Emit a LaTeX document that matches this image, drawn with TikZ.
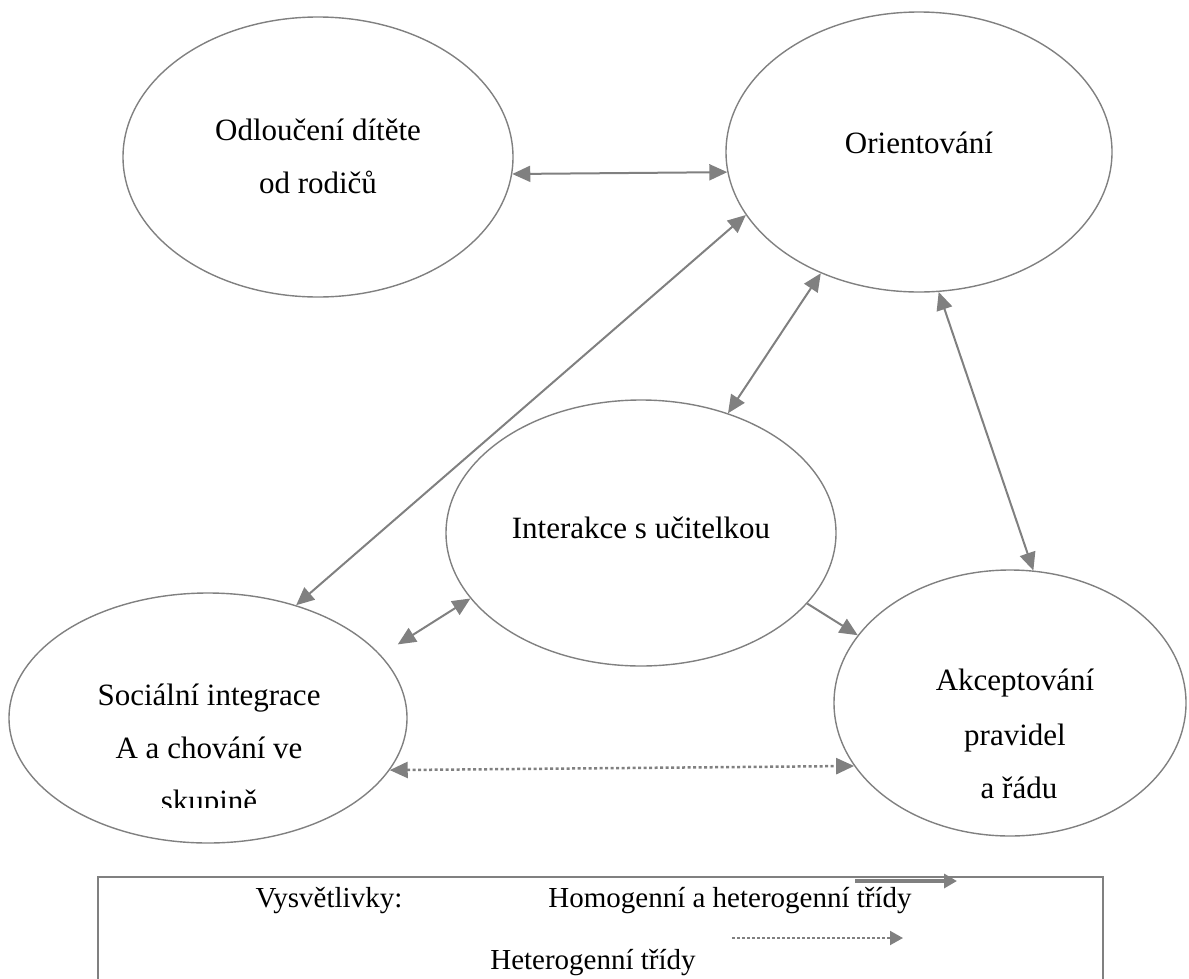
\documentclass[tikz,border=0pt]{standalone}
\usepackage{fontspec}
\setmainfont{Liberation Serif}
\usetikzlibrary{shapes.geometric,arrows.meta}
\definecolor{linegray}{RGB}{128,128,128}

\begin{document}
\begin{tikzpicture}[
    x=1pt, y=-1pt,
    every node/.style={inner sep=0pt, font=\fontsize{31}{37}\selectfont},
    bubble/.style={ellipse, draw=linegray, line width=1.4pt},
    lbl/.style={anchor=base},
    keytxt/.style={anchor=base, font=\fontsize{29}{35}\selectfont},
    link/.style={draw=linegray, line width=2pt, {Triangle[length=18pt,width=16pt]}-{Triangle[length=18pt,width=16pt]}},
    oneway/.style={draw=linegray, line width=2pt, -{Triangle[length=18pt,width=16pt]}},
    hetlink/.style={link, line width=2.5pt, dash pattern=on 3pt off 2.5pt},
]
\useasboundingbox (0,0) rectangle (1189,978);

% the five phases
\node[bubble, minimum width=390pt, minimum height=280pt] (odl) at (318,157) {};
\node[bubble, minimum width=386pt, minimum height=280pt] (ori) at (919,152) {};
\node[bubble, minimum width=390pt, minimum height=266pt] (int) at (641,533) {};
\node[bubble, minimum width=398pt, minimum height=250pt] (soc) at (208,718) {};
\node[bubble, minimum width=352pt, minimum height=266pt] (akc) at (1010,703) {};

\node[lbl] (odl-a) at (318,140) {Odloučení dítěte};
\node[lbl] (odl-b) at (318,193) {od rodičů};
\node[lbl] (ori-a) at (919,153) {Orientování};
\node[lbl] (int-a) at (641,538) {Interakce s učitelkou};
\begin{scope}
    \clip (0,600) rectangle (420,807);
    \node[lbl] (soc-a) at (209,705) {Sociální integrace};
    \node[lbl] (soc-b) at (209,758) {A a chování ve};
    \node[lbl] (soc-c) at (209,811) {skupině};
\end{scope}
\node[lbl] (akc-a) at (1015,690) {Akceptování};
\node[lbl] (akc-b) at (1015,745) {pravidel};
\node[lbl] (akc-c) at (1019,798) {a řádu};

% links
\draw[link] (odl.-5) -- (ori.186);
\draw[link] (soc.52) -- (ori.200);
\draw[link] (int.54) -- (ori.231);
\draw[link] (akc.80) -- (ori.-82);
\draw[link, shorten >=20pt] (int.201) -- (soc.20);
\draw[oneway] (int.-23) -- (akc.156);
\draw[hetlink] (soc.-16) -- (akc.202);

% legend
\draw[draw=linegray, line width=1.4pt] (98,877) rectangle (1103,1010);
\node[keytxt] (key) at (329,907) {Vysvětlivky:};
\node[keytxt] (key-hom) at (730,907) {Homogenní a heterogenní třídy};
\node[keytxt] (key-het) at (593,969) {Heterogenní třídy};
\coordinate (homA) at (855,881);
\coordinate (homB) at (957,881);
\coordinate (hetA) at (732,938);
\coordinate (hetB) at (903,938);
\draw[draw=linegray, line width=4pt, -{Triangle[length=13pt,width=14pt]}] (homA) -- (homB);
\draw[draw=linegray, line width=2pt, dash pattern=on 3pt off 2pt, -{Triangle[length=13pt,width=14pt]}] (hetA) -- (hetB);
\end{tikzpicture}
\end{document}
